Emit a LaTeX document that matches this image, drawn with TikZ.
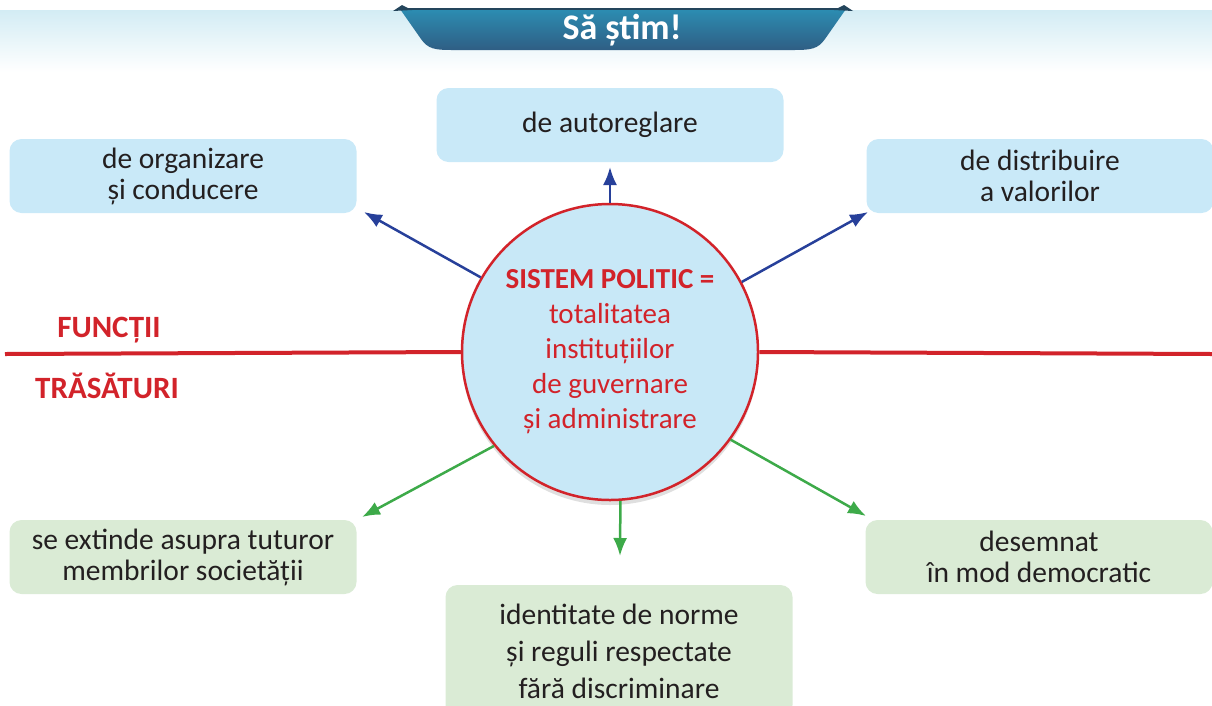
\documentclass[tikz,border=0pt]{standalone}
\usepackage{fontspec}
\setmainfont{Carlito}
\usetikzlibrary{shadows,arrows.meta}

\definecolor{bandtop}{HTML}{D3ECF4}
\definecolor{ribtop}{HTML}{2C8DB2}
\definecolor{ribbot}{HTML}{2F5E84}
\definecolor{ribdark}{HTML}{24455C}
\definecolor{funcfill}{HTML}{C9E9F8}
\definecolor{trasfill}{HTML}{DAEBD5}
\definecolor{corefill}{HTML}{C8E8F7}
\definecolor{polred}{HTML}{D2232A}
\definecolor{funcblue}{HTML}{27409A}
\definecolor{trasgreen}{HTML}{3DAA49}
\definecolor{ink}{HTML}{231F20}

\begin{document}
\begin{tikzpicture}[x=1pt,y=-1pt,
    topbox/.style={fill=funcfill,rounded corners=12pt,minimum width=347pt,minimum height=74pt,
                   align=center,text=ink,font=\fontsize{29.5}{31}\selectfont},
    botbox/.style={topbox,fill=trasfill},
    side/.style={text=polred,font=\bfseries\fontsize{31}{34}\selectfont},
    funclink/.style={-{Latex[length=18pt,width=14pt]},draw=funcblue,fill=funcblue,line width=2.5pt},
    traslink/.style={-{Latex[length=18pt,width=14pt]},draw=trasgreen,fill=trasgreen,line width=2.5pt}]
  \useasboundingbox (0,0) rectangle (1212,705);

  % header
  \shade[top color=bandtop,bottom color=white] (0,10) rectangle (1212,72);
  \shade[top color=ribtop,bottom color=ribbot] (400,9) -- (421,39)
      .. controls (428,49) and (435,50) .. (452,50) -- (794,50) .. controls (811,50) and (818,49) .. (825,39)
      -- (846,9) -- cycle;
  \fill[ribdark] (393,11) -- (402,5) -- (412,10) -- cycle;
  \fill[ribdark] (853,11) -- (844,5) -- (834,10) -- cycle;
  \draw[ribdark,line width=1.5pt] (400,9) -- (846,9);
  \node[text=white,font=\bfseries\fontsize{36}{40}\selectfont] (title) at (622,30) {Să știm!};

  % centre
  \node[circle,minimum size=296pt,inner sep=0pt,fill=corefill,draw=polred,line width=2.5pt,
        drop shadow={shadow xshift=0pt,shadow yshift=-5pt,opacity=0.25,fill=black!50},
        align=center,text=polred,font=\fontsize{29}{35}\selectfont] (core) at (610,352)
        {\textbf{SISTEM POLITIC =}\\totalitatea\\instituțiilor\\de guvernare\\și administrare};

  \coordinate (lineL) at (5,354);
  \coordinate (lineR) at (1212,354);
  \draw[polred,line width=4pt] (lineL) -- (core.west);
  \draw[polred,line width=4pt] (core.east) -- (lineR);
  \node[side] (func) at (109,330) {FUNCȚII};
  \node[side] (tras) at (107,386) {TRĂSĂTURI};

  % functii
  \node[topbox] (orgbox) at (183,176) {de organizare\\și conducere};
  \node[topbox] (autobox) at (610,125) {de autoreglare};
  \node[topbox] (distbox) at (1040,176) {de distribuire\\a valorilor};
  \coordinate (orgtip) at (364,212);
  \coordinate (autotip) at (610,167);
  \coordinate (disttip) at (868,212);
  \draw[funclink] (core.150) -- (orgtip);
  \draw[funclink] (core.90) -- (autotip);
  \draw[funclink] (core.28) -- (disttip);

  % trasaturi
  \node[botbox] (extbox) at (183,557) {se extinde asupra tuturor\\membrilor societății};
  \node[botbox,minimum height=132pt,font=\fontsize{29.5}{37}\selectfont] (normbox) at (619,651)
        {identitate de norme\\și reguli respectate\\fără discriminare};
  \node[botbox] (demobox) at (1039,557) {desemnat\\în mod democratic};
  \coordinate (exttip) at (362,517);
  \coordinate (normtip) at (620,556);
  \coordinate (demotip) at (866,516);
  \draw[traslink] (core.219) -- (exttip);
  \draw[traslink] (core.274) -- (normtip);
  \draw[traslink] (core.324) -- (demotip);
\end{tikzpicture}
\end{document}
